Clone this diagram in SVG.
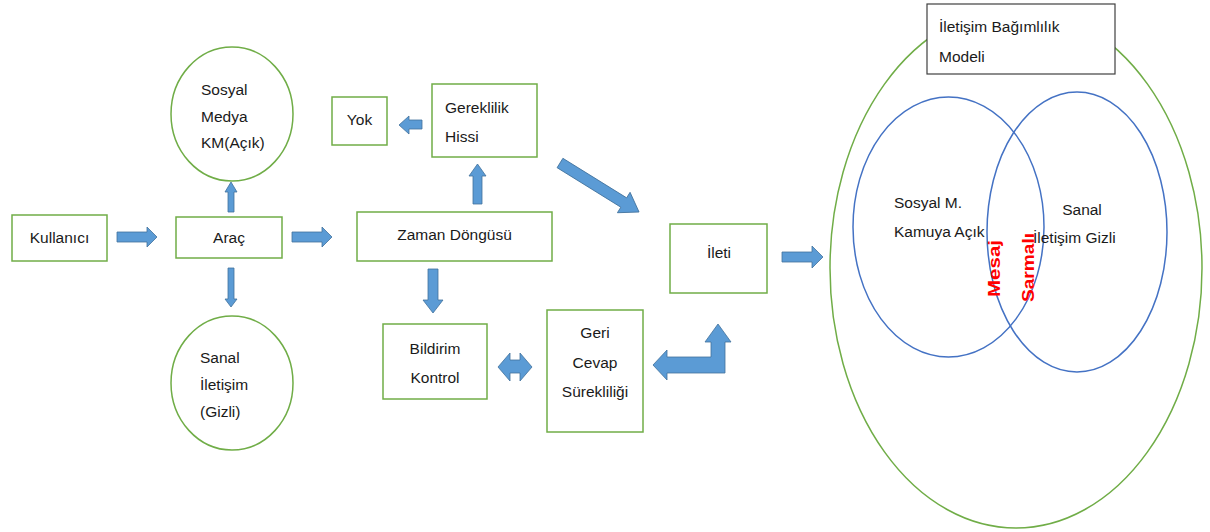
<svg xmlns="http://www.w3.org/2000/svg" width="1210" height="532" viewBox="0 0 1210 532">
<style>
.box{fill:#fff;stroke:#70AD47;stroke-width:1.5}
.circ{fill:#fff;stroke:#70AD47;stroke-width:1.5}
.arr{fill:#5B9BD5;stroke:#41719C;stroke-width:0.8}
.t{font-family:"Liberation Sans",Arial,sans-serif;font-size:15.5px;fill:#1a1a1a}
.c{text-anchor:middle}
.red{font-family:"Liberation Sans",Arial,sans-serif;font-size:16px;font-weight:bold;fill:#FF0000}
</style>
<rect width="1210" height="532" fill="#fff"/>

<g id="model">
  <ellipse cx="1016" cy="268" rx="186" ry="260" fill="none" stroke="#70AD47" stroke-width="1.5"/>
  <ellipse cx="948.5" cy="227" rx="95.5" ry="130" fill="none" stroke="#4472C4" stroke-width="1.5"/>
  <ellipse cx="1077" cy="232" rx="90" ry="140" fill="none" stroke="#4472C4" stroke-width="1.5"/>
  <text class="t" x="894" y="208">Sosyal M.</text>
  <text class="t" x="894" y="237">Kamuya Açık</text>
  <text class="t c" x="1082" y="215">Sanal</text>
  <text class="t" x="1033" y="243">İletişim Gizli</text>
  <text class="red" transform="translate(1000,297) rotate(-90)" textLength="57" lengthAdjust="spacingAndGlyphs">Mesaj</text>
  <text class="red" transform="translate(1034,302) rotate(-90)" textLength="69" lengthAdjust="spacingAndGlyphs">Sarmalı</text>
</g>
<g id="title">
  <rect x="927" y="4" width="188" height="70" fill="#fff" stroke="#404040" stroke-width="1.2"/>
  <text class="t" x="939" y="32">İletişim Bağımlılık</text>
  <text class="t" x="939" y="62">Modeli</text>
</g>

<g id="kullanici">
  <rect class="box" x="12" y="215" width="95" height="46"/>
  <text class="t c" x="59.5" y="243">Kullanıcı</text>
</g>
<g id="arac">
  <rect class="box" x="176" y="217" width="106" height="41"/>
  <text class="t c" x="229" y="243">Araç</text>
</g>
<g id="sosyal-medya">
  <ellipse class="circ" cx="232" cy="114" rx="61" ry="67"/>
  <text class="t" x="201" y="95">Sosyal</text>
  <text class="t" x="201" y="122">Medya</text>
  <text class="t" x="201" y="148">KM(Açık)</text>
</g>
<g id="sanal-iletisim">
  <ellipse class="circ" cx="232" cy="383" rx="61" ry="67"/>
  <text class="t" x="200" y="363">Sanal</text>
  <text class="t" x="200" y="390">İletişim</text>
  <text class="t" x="200" y="417">(Gizli)</text>
</g>
<g id="yok">
  <rect class="box" x="332" y="97" width="55" height="48"/>
  <text class="t c" x="359.5" y="125">Yok</text>
</g>
<g id="gereklilik">
  <rect class="box" x="432" y="84" width="105" height="73"/>
  <text class="t" x="445" y="113">Gereklilik</text>
  <text class="t" x="445" y="142">Hissi</text>
</g>
<g id="zaman">
  <rect class="box" x="357" y="212" width="195" height="49"/>
  <text class="t c" x="454.5" y="240">Zaman Döngüsü</text>
</g>
<g id="bildirim">
  <rect class="box" x="383" y="324" width="104" height="75"/>
  <text class="t c" x="435" y="354">Bildirim</text>
  <text class="t c" x="435" y="383">Kontrol</text>
</g>
<g id="geri-cevap">
  <rect class="box" x="547" y="310" width="96" height="122"/>
  <text class="t c" x="595" y="338">Geri</text>
  <text class="t c" x="595" y="368">Cevap</text>
  <text class="t c" x="595" y="397">Sürekliliği</text>
</g>
<g id="ileti">
  <rect class="box" x="670" y="224" width="97" height="69"/>
  <text class="t c" x="719" y="258">İleti</text>
</g>

<g id="connectors">
  <path class="arr" d="M117,232 H147 V227 L157,237 L147,247 V242 H117 Z"/>
  <path class="arr" d="M292,232 H322 V227 L332,237 L322,247 V242 H292 Z"/>
  <path class="arr" d="M228,212 V192 H225 L231,182 L237,192 H234 V212 Z"/>
  <path class="arr" d="M228,268 V299 H225 L231,307 L237,299 H234 V268 Z"/>
  <path class="arr" d="M422,120 H409 V116 L399,125 L409,134 V129 H422 Z"/>
  <path class="arr" d="M473,204 V176 H469 L477.5,164 L486,176 H482 V204 Z"/>
  <path class="arr" d="M428,269 V300 H423 L433,313 L443,300 H438 V269 Z"/>
  <path class="arr" d="M498,367 L510,353 V360 H520 V353 L532,367 L520,381 V373 H510 V381 Z"/>
  <path class="arr" d="M653,365 L667,350 V357 H711 V342 H705 L718,324 L731,342 H725 V373 H667 V380 Z"/>
  <path class="arr" transform="translate(560,163) rotate(31.8)" d="M0,-5.5 H75 V-12 L93,0 L75,12 V5.5 H0 Z"/>
  <path class="arr" d="M782,252 H812 V246 L823,257 L812,268 V262 H782 Z"/>
</g>
</svg>
